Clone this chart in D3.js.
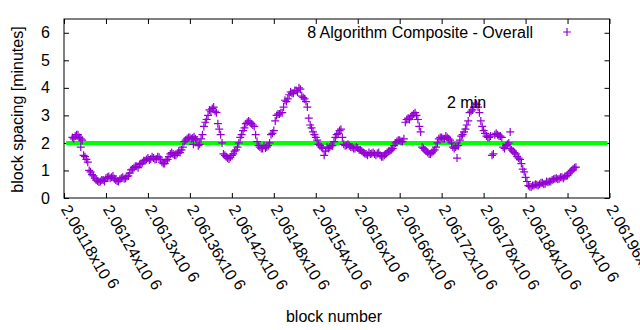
<!DOCTYPE html>
<html>
<head>
<meta charset="utf-8">
<script src="https://cdn.jsdelivr.net/npm/d3@7"></script>
<style>
  body { margin: 0; background: #fff; }
  svg { display: block; }
  text { font-family: "Liberation Sans", Arial, sans-serif; fill: #000; }
</style>
</head>
<body>
<div id="display"></div>
<script>
// block spacing (moving average, minutes)
var blocks = [
  2061192,2061196,2061200,2061204,2061208,2061212,2061216,2061220,2061224,2061228,
  2061232,2061236,2061240,2061244,2061248,2061252,2061256,2061260,2061264,2061268,
  2061272,2061276,2061280,2061284,2061288,2061292,2061296,2061300,2061304,2061308,
  2061312,2061316,2061320,2061324,2061328,2061332,2061336,2061340,2061344,2061348,
  2061352,2061356,2061360,2061364,2061368,2061372,2061376,2061380,2061384,2061388,
  2061392,2061396,2061400,2061404,2061408,2061412,2061416,2061420,2061424,2061428,
  2061432,2061436,2061440,2061444,2061448,2061452,2061456,2061460,2061464,2061468,
  2061472,2061476,2061480,2061484,2061488,2061492,2061496,2061500,2061504,2061508,
  2061512,2061516,2061520,2061524,2061528,2061532,2061536,2061540,2061544,2061548,
  2061552,2061556,2061560,2061564,2061568,2061572,2061576,2061580,2061584,2061588,
  2061592,2061596,2061600,2061604,2061608,2061612,2061616,2061620,2061624,2061628,
  2061632,2061636,2061640,2061644,2061648,2061652,2061656,2061660,2061664,2061668,
  2061672,2061676,2061680,2061684,2061688,2061692,2061696,2061700,2061704,2061708,
  2061712,2061716,2061720,2061724,2061728,2061732,2061736,2061740,2061744,2061748,
  2061752,2061756,2061760,2061764,2061768,2061772,2061776,2061780,2061784,2061788,
  2061792,2061796,2061800,2061804,2061808,2061812,2061816,2061820,2061824,2061828,
  2061832,2061836,2061840,2061844,2061848,2061852,2061856,2061860,2061864,2061868,
  2061872,2061876,2061880,2061884,2061888,2061892,2061896,2061900,2061904,2061908,
  2061912,
  // stray points
  2061204,2061742,2061818,2061365
];
var spacing = [
  2.2,2.25,2.3,2.15,1.55,1.4,1.0,0.85,0.72,0.62,
  0.6,0.65,0.72,0.78,0.75,0.7,0.62,0.68,0.75,0.72,
  0.8,1.02,1.1,1.15,1.22,1.28,1.35,1.45,1.42,1.45,
  1.42,1.48,1.3,1.25,1.4,1.6,1.6,1.55,1.7,1.75,
  2.05,2.15,2.2,2.18,2.15,1.9,2.15,2.6,2.85,3.2,
  3.25,3.15,2.7,2.3,1.6,1.5,1.42,1.55,1.7,1.85,
  2.2,2.45,2.7,2.8,2.7,2.6,2.05,1.85,1.8,1.82,
  1.9,2.3,2.45,3.0,3.05,3.1,3.55,3.6,3.85,3.8,
  3.9,4.0,3.7,3.6,3.3,2.65,2.4,2.2,1.95,1.85,
  1.55,1.85,1.85,1.9,2.2,2.35,2.5,1.95,1.92,1.9,
  1.85,1.8,1.82,1.75,1.65,1.6,1.65,1.62,1.6,1.62,
  1.55,1.5,1.6,1.7,1.75,1.9,2.05,2.1,2.05,2.75,
  2.9,2.95,3.05,3.0,2.6,1.85,1.75,1.65,1.6,1.7,
  1.85,2.15,2.2,2.15,2.2,2.1,1.85,1.85,1.9,2.25,
  2.4,2.65,3.1,3.2,3.45,3.3,2.8,2.45,2.25,2.2,
  1.55,2.3,2.3,2.25,1.85,1.9,2.0,1.75,1.65,1.5,
  1.4,1.05,0.75,0.45,0.4,0.45,0.48,0.5,0.55,0.52,
  0.57,0.6,0.68,0.72,0.7,0.75,0.78,0.82,0.95,1.05,
  1.12,
  1.85,1.45,2.4,1.95
];
// the blocks in between, showing the spread of the band
var blocksB = [
  2061194,2061198,2061202,2061206,2061210,2061214,2061218,2061222,2061226,2061230,
  2061234,2061238,2061242,2061246,2061250,2061254,2061258,2061262,2061266,2061270,
  2061274,2061278,2061282,2061286,2061290,2061294,2061298,2061302,2061306,2061310,
  2061314,2061318,2061322,2061326,2061330,2061334,2061338,2061342,2061346,2061350,
  2061354,2061358,2061362,2061366,2061370,2061374,2061378,2061382,2061386,2061390,
  2061394,2061398,2061402,2061406,2061410,2061414,2061418,2061422,2061426,2061430,
  2061434,2061438,2061442,2061446,2061450,2061454,2061458,2061462,2061466,2061470,
  2061474,2061478,2061482,2061486,2061490,2061494,2061498,2061502,2061506,2061510,
  2061514,2061518,2061522,2061526,2061530,2061534,2061538,2061542,2061546,2061550,
  2061554,2061558,2061562,2061566,2061570,2061574,2061578,2061582,2061586,2061590,
  2061594,2061598,2061602,2061606,2061610,2061614,2061618,2061622,2061626,2061630,
  2061634,2061638,2061642,2061646,2061650,2061654,2061658,2061662,2061666,2061670,
  2061674,2061678,2061682,2061686,2061690,2061694,2061698,2061702,2061706,2061710,
  2061714,2061718,2061722,2061726,2061730,2061734,2061738,2061742,2061746,2061750,
  2061754,2061758,2061762,2061766,2061770,2061774,2061778,2061782,2061786,2061790,
  2061794,2061798,2061802,2061806,2061810,2061814,2061818,2061822,2061826,2061830,
  2061834,2061838,2061842,2061846,2061850,2061854,2061858,2061862,2061866,2061870,
  2061874,2061878,2061882,2061886,2061890,2061894,2061898,2061902,2061906,2061910
];
var spacingB = [
  2.15,2.3,2.2,2.1,1.5,1.3,0.95,0.8,0.65,0.58,
  0.65,0.6,0.75,0.72,0.8,0.65,0.6,0.72,0.7,0.78,
  0.9,1.05,1.15,1.1,1.25,1.35,1.4,1.38,1.5,1.4,
  1.5,1.4,1.25,1.35,1.5,1.65,1.55,1.62,1.65,1.85,
  2.1,2.2,2.15,2.22,2.1,1.95,2.3,2.75,3.0,3.15,
  3.3,3.1,2.5,2.0,1.55,1.45,1.48,1.6,1.75,2.0,
  2.3,2.55,2.75,2.75,2.65,2.3,1.9,1.8,1.9,1.85,
  2.0,2.35,2.8,3.05,3.1,3.3,3.5,3.75,3.8,3.9,
  3.85,3.95,3.65,3.5,2.9,2.55,2.3,2.1,1.9,1.8,
  1.7,1.8,1.9,2.05,2.3,2.45,2.2,1.9,1.95,1.85,
  1.8,1.85,1.75,1.7,1.62,1.55,1.6,1.65,1.55,1.65,
  1.5,1.55,1.65,1.72,1.8,2.0,2.1,2.05,2.15,2.85,
  2.85,3.0,3.1,2.85,2.4,1.8,1.7,1.6,1.65,1.75,
  2.0,2.2,2.15,2.25,2.15,2.0,1.8,1.9,2.1,2.3,
  2.5,2.8,3.15,3.3,3.4,3.1,2.6,2.35,2.2,2.25,
  1.6,2.35,2.25,2.2,1.8,1.95,1.8,1.7,1.6,1.45,
  1.25,0.95,0.6,0.42,0.45,0.5,0.45,0.55,0.5,0.6,
  0.6,0.65,0.7,0.68,0.75,0.72,0.8,0.88,1.0,1.1
];
var xTicks = [2061180,2061240,2061300,2061360,2061420,2061480,2061540,2061600,
              2061660,2061720,2061780,2061840,2061900,2061960];
var yTicks = [0,1,2,3,4,5,6];
var target = 2;

var W = 640, H = 330;
var m = { left: 64, right: 30.5, top: 19, bottom: 132 };
var svg = d3.select("#display").append("svg").attr("width", W).attr("height", H);

var x = d3.scaleLinear().domain([2061180, 2061960]).range([m.left, W - m.right]);
var y = d3.scaleLinear().domain([0, 6.5]).range([H - m.bottom, m.top]);
var x0 = m.left, x1 = W - m.right, y0 = H - m.bottom, y1 = m.top;
var fs = 16;

function fmt(v) { return (v / 1e6).toFixed(5).replace(/0+$/, ""); }

// bottom axis with rotated labels
var bx = svg.append("g").attr("transform", "translate(0," + y0 + ")")
  .call(d3.axisBottom(x).tickValues(xTicks).tickSize(-5).tickSizeOuter(0).tickFormat(""));
bx.selectAll("line").attr("stroke", "#000");
bx.select(".domain").remove();
bx.selectAll(".tick").append("text")
  .attr("transform", "translate(-4,11) rotate(60)")
  .attr("text-anchor", "start")
  .attr("font-size", fs)
  .each(function(d) {
    var t = d3.select(this);
    t.append("tspan").text(fmt(d) + "x10");
    t.append("tspan").attr("dx", 4).attr("dy", -3).text("6");
  });
// top mirror ticks
var tx = svg.append("g").attr("transform", "translate(0," + y1 + ")")
  .call(d3.axisTop(x).tickValues(xTicks).tickSize(-5).tickSizeOuter(0).tickFormat(""));
tx.select(".domain").remove();
tx.selectAll("line").attr("stroke", "#000");

// left axis
var ly = svg.append("g").attr("transform", "translate(" + x0 + ",0)")
  .call(d3.axisLeft(y).tickValues(yTicks).tickSize(-5).tickSizeOuter(0)
    .tickPadding(14).tickFormat(d3.format("d")));
ly.select(".domain").remove();
ly.selectAll("line").attr("stroke", "#000");
ly.selectAll("text").attr("font-size", fs).attr("font-family", "Liberation Sans, Arial, sans-serif");
// right mirror ticks
var ry = svg.append("g").attr("transform", "translate(" + x1 + ",0)")
  .call(d3.axisRight(y).tickValues(yTicks).tickSize(-5).tickSizeOuter(0).tickFormat(""));
ry.select(".domain").remove();
ry.selectAll("line").attr("stroke", "#000");

// 2 minute target line
svg.append("line")
  .attr("x1", x0 + 2).attr("x2", x1 - 2)
  .attr("y1", y(target)).attr("y2", y(target))
  .attr("stroke", "#00ff00").attr("stroke-width", 4);

// data points as "+"
var s = 4;
var plus = "M" + (-s) + ",0H" + s + "M0," + (-s) + "V" + s;
var pts = blocks.map(function(b, i) { return [b, spacing[i]]; })
  .concat(blocksB.map(function(b, i) { return [b, spacingB[i]]; }));
svg.append("g").selectAll("path").data(pts)
  .join("path")
  .attr("transform", function(d) { return "translate(" + x(d[0]) + "," + y(d[1]) + ")"; })
  .attr("d", plus)
  .attr("stroke", "#9400d3").attr("stroke-width", 1.2).attr("fill", "none");

// border
svg.append("rect").attr("x", x0).attr("y", y1)
  .attr("width", x1 - x0).attr("height", y0 - y1)
  .attr("fill", "none").attr("stroke", "#000").attr("stroke-width", 1);

// legend
svg.append("text").attr("x", 533).attr("y", 38).attr("text-anchor", "end")
  .attr("font-size", fs).text("8 Algorithm Composite - Overall");
svg.append("path").attr("transform", "translate(567,32)").attr("d", plus)
  .attr("stroke", "#9400d3").attr("stroke-width", 1.2);

// label on the target line
svg.append("text").attr("x", 447).attr("y", 108).attr("font-size", fs).text("2 min");

// axis titles
svg.append("text").attr("x", 334).attr("y", 322).attr("text-anchor", "middle")
  .attr("font-size", fs).text("block number");
svg.append("text").attr("transform", "translate(23," + ((y0 + y1) / 2 + 1) + ") rotate(-90)")
  .attr("text-anchor", "middle").attr("font-size", fs).text("block spacing [minutes]");
</script>
</body>
</html>
